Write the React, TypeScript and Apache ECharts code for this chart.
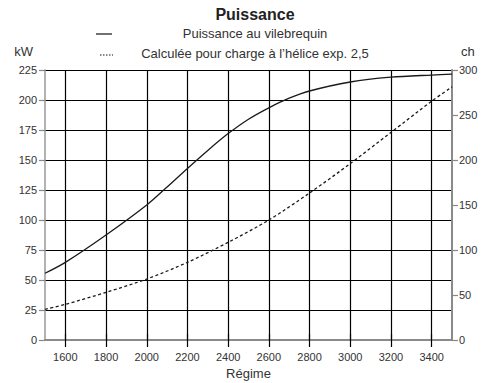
import React, { useEffect, useRef } from "react";
import * as echarts from "echarts";

const titleText = "Puissance";
const legendSolid = "Puissance au vilebrequin";
const legendDashed = "Calculée pour charge à l’hélice exp. 2,5";
const xTicks = [1600, 1800, 2000, 2200, 2400, 2600, 2800, 3000, 3200, 3400];
const rpm = [1500, 1600, 1800, 2000, 2100, 2200, 2300, 2400, 2500, 2600, 2700, 2800, 3000, 3200, 3400, 3500];
const crankshaftKw = [55.6, 64.7, 87.5, 112.5, 127.5, 143, 158, 172, 184, 193.5, 201.5, 207.5, 215, 219, 220.8, 221.5];
const rpmProp = [1500, 1600, 1800, 2000, 2200, 2400, 2600, 2800, 3000, 3200, 3400, 3500];
const propellerKw = [25.6, 29.7, 39.7, 50.8, 64.7, 81.4, 100, 122.5, 147, 173, 199, 211];

const FONT = "Liberation Sans, Arial, sans-serif";

export default function App() {
  const ref = useRef<HTMLDivElement>(null);
  useEffect(() => {
    if (!ref.current) return;
    const chart = echarts.init(ref.current, null, { renderer: "svg" });
    const solid = rpm.map((r, i) => [r, crankshaftKw[i]]);
    const dashed = rpmProp.map((r, i) => [r, propellerKw[i]]);
    const plain = (v: number) => String(v);
    chart.setOption({
      animation: false,
      backgroundColor: "#fff",
      textStyle: { fontFamily: FONT },
      grid: { left: 45, right: 41, top: 70, bottom: 43, containLabel: false, outerBoundsMode: "none" },
      graphic: [
        {
          type: "text",
          x: 255,
          y: 14,
          style: { text: titleText, font: "bold 16px " + FONT, fill: "#222", align: "center", verticalAlign: "middle" },
        },
        {
          type: "line",
          shape: { x1: 96, y1: 34, x2: 112, y2: 34 },
          style: { stroke: "#111", lineWidth: 1.2 },
        },
        {
          type: "text",
          x: 255,
          y: 33,
          style: { text: legendSolid, font: "13px " + FONT, fill: "#333", align: "center", verticalAlign: "middle" },
        },
        {
          type: "line",
          shape: { x1: 100, y1: 55, x2: 113, y2: 55 },
          style: { stroke: "#111", lineWidth: 1, lineDash: [1.5, 1.5] },
        },
        {
          type: "text",
          x: 255,
          y: 53,
          style: { text: legendDashed, font: "13px " + FONT, fill: "#333", align: "center", verticalAlign: "middle" },
        },
      ],
      xAxis: [
        {
          type: "value",
          position: "bottom",
          min: 1500,
          max: 3500,
          interval: 500,
          name: "Régime",
          nameLocation: "middle",
          nameGap: 26,
          nameTextStyle: { fontSize: 13, color: "#333", fontFamily: FONT },
          axisLine: { show: true, lineStyle: { color: "#8a8a8a", width: 2 } },
          axisTick: { show: true, customValues: xTicks, length: 7, lineStyle: { color: "#000", width: 1.2 } },
          axisLabel: { show: true, customValues: xTicks, margin: 11, fontSize: 11, color: "#333", fontFamily: FONT, formatter: plain },
          splitLine: { show: true, lineStyle: { color: "#000", width: 1.2 } },
        },
        {
          type: "value",
          position: "top",
          min: 1500,
          max: 3500,
          interval: 500,
          axisLine: { show: false },
          axisTick: { show: true, customValues: xTicks, length: 6, lineStyle: { color: "#000", width: 1.2 } },
          axisLabel: { show: false },
          splitLine: { show: false },
        },
      ],
      yAxis: [
        {
          type: "value",
          position: "left",
          min: 0,
          max: 225,
          interval: 25,
          name: "kW",
          nameLocation: "end",
          nameGap: 12,
          nameTextStyle: { fontSize: 13, color: "#333", align: "right", padding: [0, 12, 0, 0], fontFamily: FONT },
          axisLine: { show: true, lineStyle: { color: "#999", width: 1.5 } },
          axisTick: { show: true, length: 6, lineStyle: { color: "#888", width: 1.2 } },
          axisLabel: { margin: 8, fontSize: 11, color: "#333", fontFamily: FONT, formatter: plain },
          splitLine: { show: true, lineStyle: { color: "#000", width: 1.2 } },
        },
        {
          type: "value",
          position: "right",
          min: 0,
          max: 300,
          interval: 50,
          name: "ch",
          nameLocation: "end",
          nameGap: 12,
          nameTextStyle: { fontSize: 13, color: "#333", align: "left", padding: [0, 0, 0, 9], fontFamily: FONT },
          axisLine: { show: true, lineStyle: { color: "#8a8a8a", width: 2 } },
          axisTick: { show: true, length: 6, lineStyle: { color: "#888", width: 1.2 } },
          axisLabel: { margin: 7, fontSize: 11, color: "#333", fontFamily: FONT, formatter: plain },
          splitLine: { show: false },
        },
      ],
      series: [
        {
          name: legendSolid,
          type: "line",
          xAxisIndex: 0,
          yAxisIndex: 0,
          data: solid,
          smooth: 0.3,
          showSymbol: false,
          lineStyle: { color: "#1a1a1a", width: 1.3, type: "solid" },
          z: 5,
        },
        {
          name: legendDashed,
          type: "line",
          xAxisIndex: 0,
          yAxisIndex: 0,
          data: dashed,
          smooth: 0.3,
          showSymbol: false,
          lineStyle: { color: "#1a1a1a", width: 1.3, type: [3, 2.5] },
          z: 5,
        },
      ],
    });
    return () => chart.dispose();
  }, []);
  return <div ref={ref} style={{ width: 493, height: 383, position: "absolute", left: 0, top: 0 }} />;
}
